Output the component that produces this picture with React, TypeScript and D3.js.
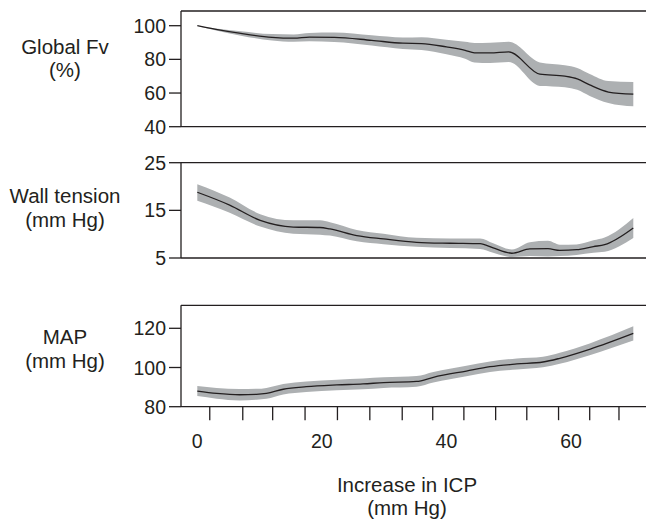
import React from "react";
import * as d3 from "d3";

// ---- data ----
const fvIcp = [0, 3, 7, 12, 15.5, 18, 22, 28, 33, 36, 40, 43, 44.5, 47, 50, 55, 59, 61, 63, 66, 70];
const fvMean = [100, 97.8, 95.4, 93.1, 92.6, 93.2, 93.1, 91.3, 89.6, 89.4, 87.4, 85.4, 83.9, 83.8, 84.4, 71.2, 70.0, 68.4, 64.8, 60.6, 59.3];
const fvHigh = [100, 98.4, 96.7, 95.0, 94.8, 95.7, 95.9, 94.3, 93.0, 93.2, 91.7, 90.4, 89.7, 89.8, 90.4, 78.2, 76.5, 74.9, 71.3, 67.1, 66.5];
const fvLow = [100, 97.2, 94.1, 91.2, 90.4, 90.7, 90.3, 88.3, 86.2, 85.6, 83.1, 80.4, 78.1, 77.8, 78.4, 64.2, 63.5, 61.9, 58.3, 54.1, 52.1];

const wtIcp = [0, 5.2, 10.1, 15.4, 19.7, 21.3, 25.6, 29.9, 35.2, 40.6, 45.4, 47.5, 50.5, 53.4, 56.3, 58.2, 60.9, 63.6, 65.4, 70];
const wtMean = [18.8, 16.1, 12.9, 11.5, 11.4, 11.1, 9.7, 9.0, 8.3, 8.1, 8.0, 7.1, 6.0, 6.9, 6.95, 6.6, 6.75, 7.4, 7.8, 11.3];
const wtHigh = [20.5, 17.7, 14.2, 12.9, 12.9, 12.5, 10.9, 10.1, 9.25, 9.1, 9.1, 8.1, 6.8, 8.3, 8.6, 7.8, 7.85, 8.7, 9.3, 13.4];
const wtLow = [17.0, 14.5, 11.6, 10.1, 9.9, 9.7, 8.5, 7.9, 7.35, 7.1, 6.9, 6.1, 5.2, 5.4, 5.3, 5.4, 5.65, 6.1, 6.3, 9.2];

const mapIcp = [0, 3.1, 6.8, 9.5, 11.1, 13.8, 17.5, 22.4, 26.6, 29.9, 35.2, 37.9, 43.2, 47, 51.3, 55.5, 58.2, 63, 70];
const mapMean = [88.0, 86.8, 86.1, 86.3, 86.8, 88.9, 90.2, 91.1, 91.6, 92.3, 92.9, 95.0, 98.2, 100.4, 101.8, 102.8, 104.7, 109.3, 117.4];
const mapHigh = [90.6, 89.6, 89.0, 89.1, 89.6, 91.6, 92.9, 93.8, 94.4, 95.0, 95.6, 97.7, 100.9, 103.1, 104.6, 105.5, 107.5, 112.3, 121.0];
const mapLow = [85.4, 84.1, 83.2, 83.5, 84.0, 86.2, 87.5, 88.4, 88.9, 89.6, 90.2, 92.3, 95.5, 97.7, 99.0, 100.1, 101.9, 106.3, 113.8];

const xTickLabels = [0, 20, 40, 60];
const xTickMarks = [2, 7.3, 12.1, 17.3, 22.5, 27.7, 32.9, 37.8, 42.8, 47.9, 52.9, 58, 63, 67.7];

const fvTicks = [100, 80, 60, 40];
const wtTicks = [25, 15, 5];
const mapTicks = [120, 100, 80];

const W = 646;
const H = 521;
const FONT = "'Liberation Sans', Arial, Helvetica, sans-serif";
const BAND = "#adb0b2";
const INK = "#231f20";

const x = d3.scaleLinear().domain([0, 70]).range([197.3, 633.3]);

type PanelProps = {
  icp: number[];
  mean: number[];
  low: number[];
  high: number[];
  domain: [number, number];
  yRange: [number, number];
  top: number;
  ticks: number[];
  label: string[];
  labelY: number[];
};

const AXIS_X = 181;

function Panel(p: PanelProps) {
  const y = d3.scaleLinear().domain(p.domain).range(p.yRange);
  const pts = p.icp.map((v, i) => ({ x: v, m: p.mean[i], lo: p.low[i], hi: p.high[i] }));
  const area = d3
    .area<any>()
    .x((d) => x(d.x))
    .y0((d) => y(d.lo))
    .y1((d) => y(d.hi))
    .curve(d3.curveMonotoneX);
  const line = d3
    .line<any>()
    .x((d) => x(d.x))
    .y((d) => y(d.m))
    .curve(d3.curveMonotoneX);
  const bottom = p.yRange[0];
  return (
    <g>
      <path d={area(pts) || ""} fill={BAND} />
      <path d={line(pts) || ""} fill="none" stroke={INK} strokeWidth={1.3} />
      <line x1={AXIS_X} x2={W} y1={p.top} y2={p.top} stroke={INK} strokeWidth={1.3} />
      <line x1={AXIS_X} x2={W} y1={bottom} y2={bottom} stroke={INK} strokeWidth={1.3} />
      <line x1={AXIS_X} x2={AXIS_X} y1={p.top} y2={bottom} stroke={INK} strokeWidth={1.3} />
      {p.ticks.map((t) => (
        <g key={t}>
          <line x1={AXIS_X - 12} x2={AXIS_X} y1={y(t)} y2={y(t)} stroke={INK} strokeWidth={1.3} />
          <text
            x={AXIS_X - 15}
            y={y(t)}
            dy="0.36em"
            textAnchor="end"
            fontSize={19.5}
            fill={INK}
            fontFamily={FONT}
          >
            {t}
          </text>
        </g>
      ))}
      {p.label.map((s, i) => (
        <text
          key={i}
          x={65}
          y={p.labelY[i]}
          textAnchor="middle"
          fontSize={20.5}
          fill={INK}
          fontFamily={FONT}
        >
          {s}
        </text>
      ))}
    </g>
  );
}

export default function App() {
  const mapY = d3.scaleLinear().domain([80, 120]).range([406.7, 328.3]);
  const axisY = mapY(80);
  return (
    <svg
      width={W}
      height={H}
      style={{ position: "absolute", left: 0, top: 0, background: "#fff" }}
    >
      <rect width={W} height={H} fill="#fff" />
      <Panel
        icp={fvIcp}
        mean={fvMean}
        low={fvLow}
        high={fvHigh}
        domain={[40, 100]}
        yRange={[126.7, 25.7]}
        top={11}
        ticks={fvTicks}
        label={["Global Fv", "(%)"]}
        labelY={[54, 77]}
      />
      <Panel
        icp={wtIcp}
        mean={wtMean}
        low={wtLow}
        high={wtHigh}
        domain={[5, 25]}
        yRange={[258, 162.7]}
        top={162.7}
        ticks={wtTicks}
        label={["Wall tension", "(mm Hg)"]}
        labelY={[202.5, 226.5]}
      />
      <Panel
        icp={mapIcp}
        mean={mapMean}
        low={mapLow}
        high={mapHigh}
        domain={[80, 120]}
        yRange={[406.7, 328.3]}
        top={305.3}
        ticks={mapTicks}
        label={["MAP", "(mm Hg)"]}
        labelY={[343.5, 368]}
      />
      {xTickMarks.map((t) => (
        <line key={t} x1={x(t)} x2={x(t)} y1={axisY} y2={axisY + 13.5} stroke={INK} strokeWidth={1.3} />
      ))}
      {xTickLabels.map((t) => (
        <text
          key={t}
          x={x(t)}
          y={448}
          textAnchor="middle"
          fontSize={19.5}
          fill={INK}
          fontFamily={FONT}
        >
          {t}
        </text>
      ))}
      <text x={407} y={491.5} textAnchor="middle" fontSize={20.5} fill={INK} fontFamily={FONT}>
        Increase in ICP
      </text>
      <text x={407} y={515} textAnchor="middle" fontSize={20.5} fill={INK} fontFamily={FONT}>
        (mm Hg)
      </text>
    </svg>
  );
}
